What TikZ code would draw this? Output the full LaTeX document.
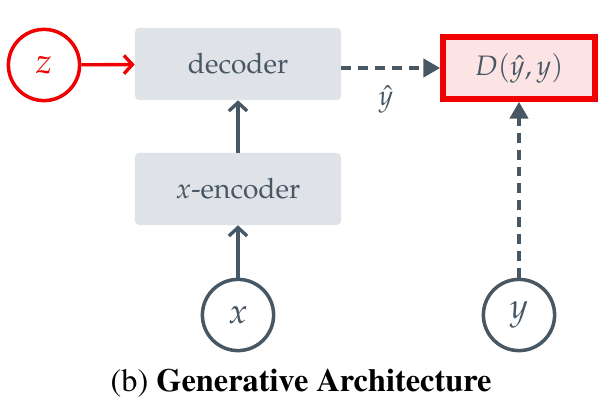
\documentclass[tikz,border=0pt]{standalone}
\usepackage[T1]{fontenc}
\usepackage{mathpazo}
\usetikzlibrary{arrows.meta}
\definecolor{slate}{HTML}{485764}
\definecolor{boxgray}{HTML}{DFE3E8}
\definecolor{lossred}{HTML}{F00000}
\definecolor{losspink}{HTML}{FDE4E4}
\tikzset{
  block/.style={fill=boxgray, rounded corners=3pt, minimum width=5.15cm, minimum height=1.8cm, text=slate},
  var/.style={circle, draw=slate, line width=2.5pt, minimum size=1.78cm, text=slate, font=\fontsize{25}{30}\selectfont},
  latent/.style={circle, draw=lossred, line width=2.5pt, minimum size=1.78cm, text=lossred, font=\fontsize{25}{30}\selectfont},
  loss/.style={draw=lossred, fill=losspink, line width=4pt, minimum width=3.8cm, minimum height=1.55cm, text=slate},
  flow/.style={draw=slate, line width=2.4pt, -{Straight Barb[length=6pt, width=13pt, line width=2.4pt]}},
  flowred/.style={draw=lossred, line width=2.4pt, -{Straight Barb[length=6pt, width=13pt, line width=2.4pt]}},
  target/.style={draw=slate, line width=2.6pt, dash pattern=on 7pt off 5pt, -{Triangle[length=12pt, width=13pt]}}
}
\begin{document}
\begin{tikzpicture}[x=0.025cm, y=-0.025cm, font=\fontsize{20}{24}\selectfont]
      \useasboundingbox (0, 0) rectangle (610, 411);
      \node [block] (dec) at (238, 64) {decoder};
      \node [block] (enc) at (238, 189) {$x$-encoder};
      \node [latent] (z) at (44, 65) {$z$};
      \node [var] (x) at (238, 315) {$x$};
      \node [var] (y) at (519, 315) {$y$};
      \node [loss] (D) at (519, 68) {$D(\hat{y}, y)$};
      \draw [flowred] (z) -- (dec);
      \draw [flow] (x) -- (enc);
      \draw [flow] (enc) -- (dec);
      \draw [target] (dec.east |- D.west) -- (D.west) node [pos = 0.45, below = 8pt, text=slate] {$\hat{y}$};
      \draw [target] (y) -- (D);
      \node (cap) at (301, 383) {\fontsize{23}{27}\usefont{T1}{ptm}{m}{n}(b) \textbf{Generative Architecture}};
    \end{tikzpicture}
\end{document}
